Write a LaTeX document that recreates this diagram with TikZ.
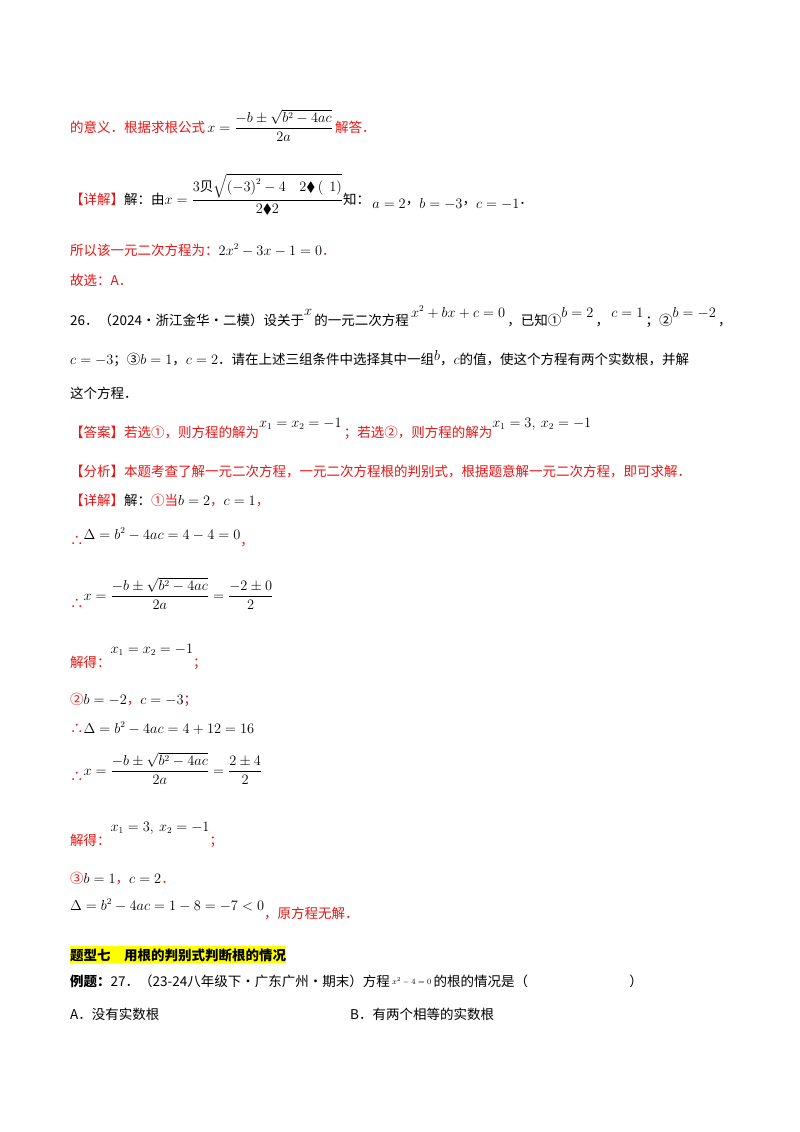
\documentclass[tikz,border=0pt]{standalone}
\usepackage{amsmath,amssymb}
\usepackage{fontspec}
\newfontfamily\cjk{Noto Sans CJK SC}
\definecolor{rd}{RGB}{235,20,20}
\definecolor{hl}{RGB}{255,255,0}
\begin{document}
\begin{tikzpicture}[x=1pt,y=-1pt,font=\cjk\fontsize{13.5}{16}\selectfont,
  ln/.style={anchor=base west,inner sep=0pt},
  rl/.style={ln,text=rd}]
\useasboundingbox (0,0) rectangle (800,1132);
\fill[white] (0,0) rectangle (800,1132);
\node[rl] (l1) at (70,132) {的意义．根据求根公式\,\textcolor{black}{$x=\dfrac{-b\pm\sqrt{b^2-4ac}}{2a}$}\,解答．};
\node[rl] (l2) at (70,204) {【详解】\textcolor{black}{解：由}\textcolor{black}{$x=\dfrac{3\text{\cjk 贝}\sqrt{\left(-3\right)^2-4\quad 2\blacklozenge\left(\ \ 1\right)}}{2\blacklozenge 2}$}\textcolor{black}{知：}\,\raisebox{-4pt}{\textcolor{black}{$a=2$}}\textcolor{black}{，}\raisebox{-4pt}{\textcolor{black}{$b=-3$}}\textcolor{black}{，}\raisebox{-4pt}{\textcolor{black}{$c=-1$}}\textcolor{black}{．}};
\node[rl] (l3) at (70,255) {所以该一元二次方程为：\textcolor{black}{$2x^2-3x-1=0$}．};
\node[rl] (l4) at (70,285) {故选：A．};
\node[ln] (l5) at (70,325) {26．（2024·浙江金华·二模）设关于\raisebox{10pt}{$x$}\,的一元二次方程\,\raisebox{8pt}{$x^2+bx+c=0$}\,，已知①\raisebox{8pt}{$b=2$}\,，\raisebox{8pt}{\,$c=1$}\,；②\raisebox{8pt}{$b=-2$}\,，};
\node[ln] (l6) at (70,364) {$c=-3$；③$b=1$，$c=2$．请在上述三组条件中选择其中一组\raisebox{4pt}{$b$}，$c$的值，使这个方程有两个实数根，并解};
\node[ln] (l7) at (70,398) {这个方程．};
\node[rl] (l8) at (70,437) {【答案】若选①，则方程的解为\raisebox{10pt}{\textcolor{black}{$x_1=x_2=-1$}}\,；若选②，则方程的解为\raisebox{10pt}{\textcolor{black}{$x_1=3,\ x_2=-1$}}};
\node[rl] (l9) at (70,476) {【分析】本题考查了解一元二次方程，一元二次方程根的判别式，根据题意解一元二次方程，即可求解．};
\node[rl] (l10) at (70,505) {【详解】\textcolor{black}{解：}①当\textcolor{black}{$b=2$}，\textcolor{black}{$c=1$}，};
\node[rl] (l11) at (70,545) {∴\raisebox{6pt}{\textcolor{black}{$\Delta=b^2-4ac=4-4=0$}}，};
\node[rl] (l12) at (70,608) {∴\raisebox{8pt}{\textcolor{black}{$x=\dfrac{-b\pm\sqrt{b^2-4ac}}{2a}=\dfrac{-2\pm0}{2}$}}};
\node[rl] (l13) at (70,667) {解得：\raisebox{14pt}{\textcolor{black}{$x_1=x_2=-1$}}；};
\node[rl] (l14) at (70,704) {②\textcolor{black}{$b=-2$}，\textcolor{black}{$c=-3$}；};
\node[rl] (l15) at (70,733) {∴\textcolor{black}{$\Delta=b^2-4ac=4+12=16$}};
\node[rl] (l16) at (70,781) {∴\raisebox{6pt}{\textcolor{black}{$x=\dfrac{-b\pm\sqrt{b^2-4ac}}{2a}=\dfrac{2\pm4}{2}$}}};
\node[rl] (l17) at (70,845) {解得：\raisebox{14pt}{\textcolor{black}{$x_1=3,\ x_2=-1$}}；};
\node[rl] (l18) at (70,883) {③\textcolor{black}{$b=1$}，\textcolor{black}{$c=2$}．};
\node[rl] (l19) at (70,918) {\raisebox{8pt}{\textcolor{black}{$\Delta=b^2-4ac=1-8=-7<0$}}，原方程无解．};
\node[ln,fill=hl,inner ysep=2pt] (l20) at (70,960) {\bfseries 题型七\quad 用根的判别式判断根的情况};
\node[ln] (l21) at (70,986) {\textbf{例题：}27．（23-24八年级下·广东广州·期末）方程\,\raisebox{2pt}{\footnotesize$x^2-4=0$}\,的根的情况是（\hspace{7.5em}）};
\node[ln] (l22) at (70,1019) {A．没有实数根};
\node[ln] (l23) at (350,1019) {B．有两个相等的实数根};
\end{tikzpicture}
\end{document}
